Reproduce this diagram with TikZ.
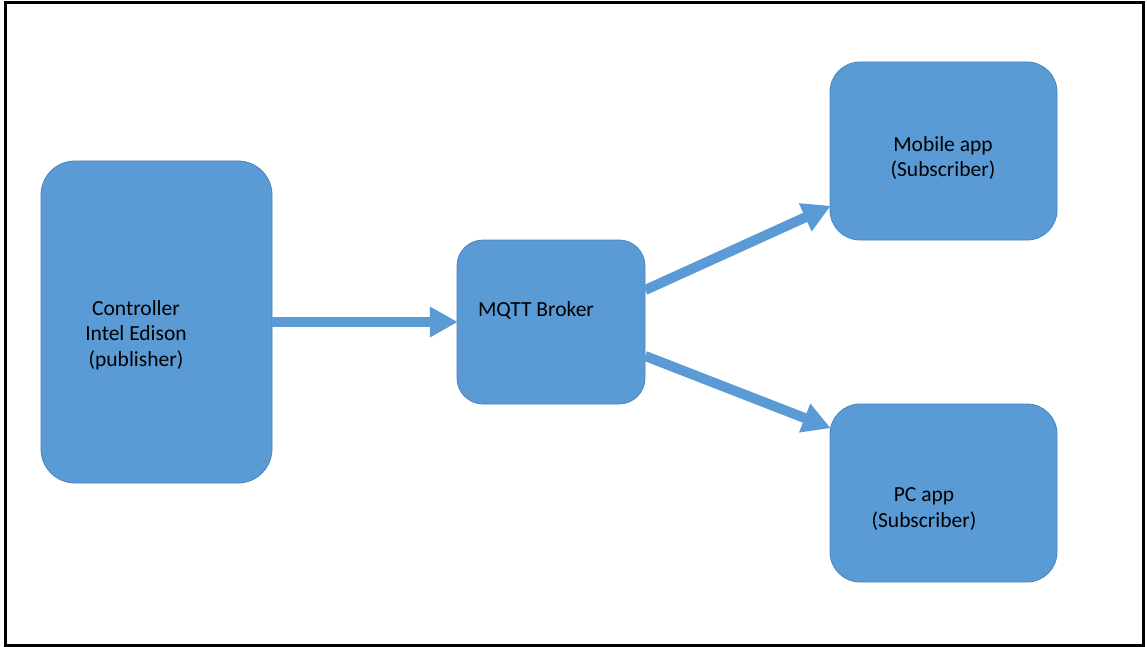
\documentclass[tikz,border=0pt]{standalone}
\usepackage{fontspec}
\setmainfont{Carlito}
\usetikzlibrary{arrows.meta}
\definecolor{boxblue}{HTML}{5B9BD5}
\definecolor{boxedge}{HTML}{4A83BC}
\begin{document}
\begin{tikzpicture}[x=1pt,y=-1pt,
  box/.style={draw=boxedge,line width=0.8pt,fill=boxblue,inner sep=0pt,
              rounded corners=#1},
  box/.default=30pt,
  lbl/.style={align=center,font=\fontsize{21.5}{25.5}\selectfont,text=black,inner sep=0pt},
  flow/.style={draw=boxblue,line width=10pt,
               -{Triangle[length=28pt,width=29pt]},shorten >=-1pt}]
  \useasboundingbox (0,0) rectangle (1147,647);
  % outer frame
  \draw[line width=3pt,black] (5,3) rectangle (1143,645);

  % boxes
  \path[box=34pt] (41,161) rectangle (272,483);
  \node[inner sep=0pt,minimum width=231pt,minimum height=322pt] (ctrl) at (156.5,322) {};
  \path[box=26pt] (457,240) rectangle (645,404);
  \node[inner sep=0pt,minimum width=188pt,minimum height=164pt] (mqtt) at (551,322) {};
  \path[box=30pt] (830,62) rectangle (1057,240);
  \node[inner sep=0pt,minimum width=227pt,minimum height=178pt] (mobile) at (943.5,151) {};
  \path[box=30pt] (830,404) rectangle (1057,582);
  \node[inner sep=0pt,minimum width=227pt,minimum height=178pt] (pc) at (943.5,493) {};

  % labels
  \node[lbl] (ctrltext) at (136,335) {Controller\\Intel Edison\\(publisher)};
  \node[lbl] (mqtttext) at (536,310) {MQTT Broker};
  \node[lbl] (mobiletext) at (943,158) {Mobile app\\(Subscriber)};
  \node[lbl] (pctext) at (924,509) {PC app\\(Subscriber)};

  % connectors
  \draw[flow] (ctrl.east) -- (mqtt.west);
  \draw[flow] ([yshift=32pt]mqtt.east) -- ([yshift=34pt]mobile.south west);
  \draw[flow] ([yshift=-34pt]mqtt.east) -- ([yshift=-24pt]pc.north west);
\end{tikzpicture}
\end{document}
